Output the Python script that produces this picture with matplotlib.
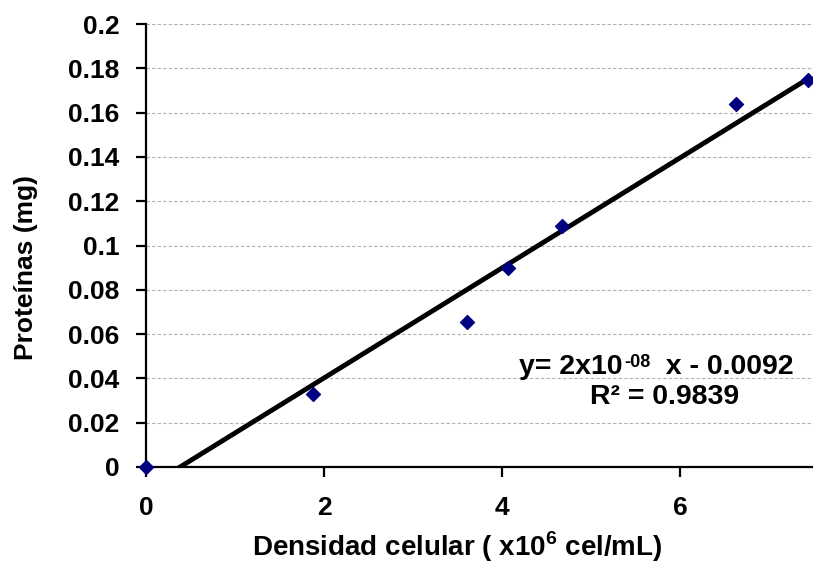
import numpy as np
import matplotlib
matplotlib.use("Agg")
import matplotlib.pyplot as plt
from matplotlib.transforms import IdentityTransform

plt.rcParams['font.family'] = ['Liberation Sans', 'DejaVu Sans']
plt.rcParams['font.weight'] = 'bold'
plt.rcParams['mathtext.fontset'] = 'custom'
plt.rcParams['mathtext.rm'] = 'Liberation Sans:bold'
plt.rcParams['mathtext.bf'] = 'Liberation Sans:bold'

# data (x in 10^6 cel/mL, y in mg)
densidad = [0.0, 1.88, 3.61, 4.06, 4.67, 6.62, 7.43]
proteinas = [0.0, 0.033, 0.0655, 0.090, 0.109, 0.164, 0.1747]

y_ticks = [0, 0.02, 0.04, 0.06, 0.08, 0.1, 0.12, 0.14, 0.16, 0.18, 0.2]
y_tick_labels = ['0', '0.02', '0.04', '0.06', '0.08', '0.1', '0.12', '0.14', '0.16', '0.18', '0.2']
x_ticks = [0, 2, 4, 6]

W, H = 813, 566
fig = plt.figure(figsize=(W / 100, H / 100), dpi=100)
ax = fig.add_axes([146 / W, 1 - 467 / H, (W - 146) / W, (467 - 24) / H])

# linear trend line
slope, intercept = np.polyfit(densidad, proteinas, 1)
xs = np.array([0, max(densidad)])
ax.plot(xs, slope * xs + intercept, color='black', lw=3.5, zorder=3, solid_capstyle='butt')

ax.scatter(densidad, proteinas, marker='D', s=50, color='#000080', zorder=4, clip_on=False)

ax.set_xlim(0, 7.49)
ax.set_ylim(0, 0.2)
ax.set_yticks(y_ticks)
ax.set_yticklabels(y_tick_labels)
ax.set_xticks(x_ticks)

ax.grid(axis='y', color='#b0b0b0', ls=(0, (3, 2)), lw=0.8)
ax.set_axisbelow(True)

for s in ['top', 'right']:
    ax.spines[s].set_visible(False)
for s in ['left', 'bottom']:
    ax.spines[s].set_linewidth(1.6)

ax.tick_params(axis='y', direction='out', length=7, width=1.6, labelsize=19, pad=12)
ax.tick_params(axis='x', direction='out', length=7, width=1.6, labelsize=19, pad=14)

# axis titles placed in pixels to match the original layout
fig.text(26 / W, 1 - 267 / H, 'Proteínas (mg)', rotation=90, ha='center', va='center',
         fontsize=19, fontweight='bold')
fig.text(457 / W, 1 - 547 / H, 'Densidad celular ( x10$^{\\mathbf{6}}$ cel/mL)',
         ha='center', va='center', fontsize=20, fontweight='bold')

# trendline equation, built from pieces so the exponent keeps a plain hyphen
t1 = ax.text(519, H - 367, 'y= 2x10', transform=IdentityTransform(), ha='left', va='center',
             fontsize=20.5, fontweight='bold')
t2 = ax.annotate('-08', xy=(1, 1), xycoords=t1, xytext=(1, 0), textcoords='offset points',
                 ha='left', va='top', fontsize=13, fontweight='bold')
t3 = ax.annotate('  x - 0.0092', xy=(1, 0), xycoords=(t2, t1), ha='left', va='bottom',
                 fontsize=20.5, fontweight='bold')
ax.text(665, H - 397, 'R² = 0.9839', transform=IdentityTransform(),
        ha='center', va='center', fontsize=20.5, fontweight='bold')

fig.savefig('out.png', dpi=100)
